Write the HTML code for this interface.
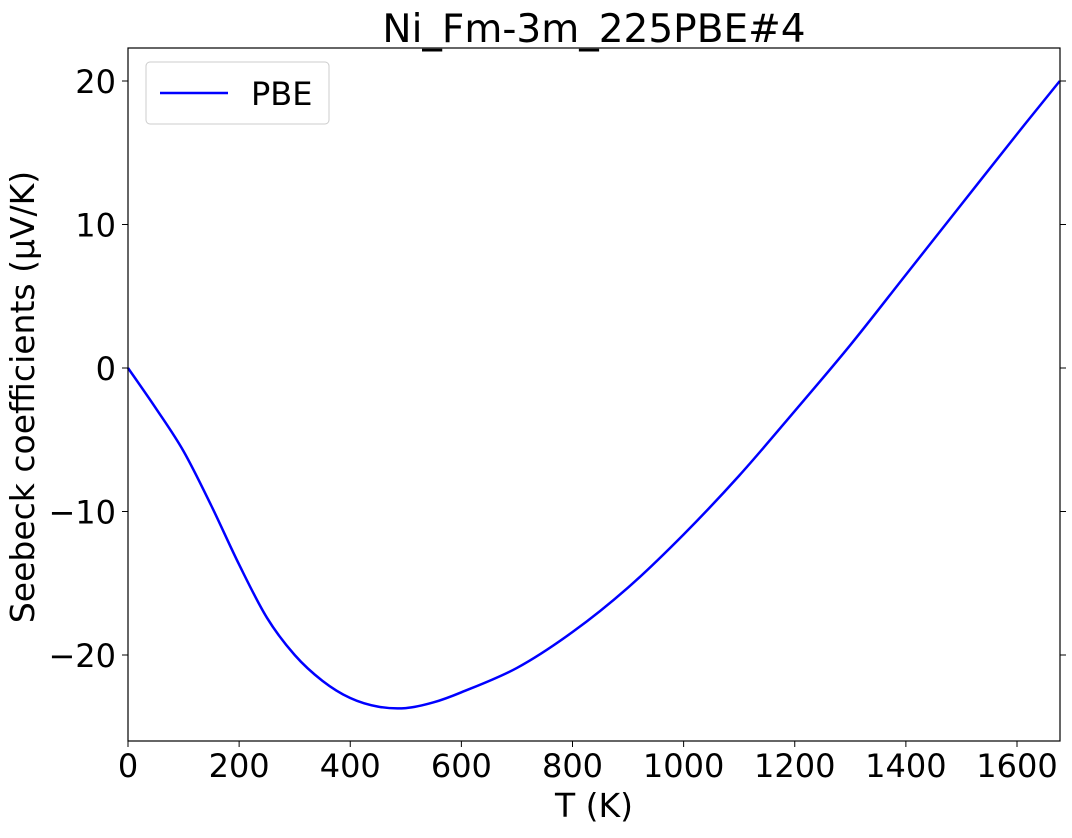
<!DOCTYPE html>
<html><head><meta charset="utf-8"><style>
body{margin:0;background:#fff;}
svg text{font-family:"DejaVu Sans","Liberation Sans",sans-serif;fill:#000;}
</style></head><body>
<svg id="chart" width="1072" height="833" xmlns="http://www.w3.org/2000/svg">
<text x="594" y="42" font-size="39" text-anchor="middle">Ni_Fm-3m_225PBE#4</text>
<g id="ticks"></g>
<path id="line" fill="none" stroke="#0000ff" stroke-width="2.5"/>
<rect x="128" y="48" width="932" height="693" fill="none" stroke="#000" stroke-width="1.2"/>
<text x="594" y="817" font-size="33" text-anchor="middle">T (K)</text>
<text transform="translate(34,397) rotate(-90)" font-size="33" text-anchor="middle">Seebeck coefficients (μV/K)</text>
<g>
<rect x="146" y="62" width="183" height="62" rx="4" fill="#fff" stroke="#ccc"/>
<line x1="160" y1="93" x2="228" y2="93" stroke="#0000ff" stroke-width="2.5"/>
<text x="251" y="105" font-size="32">PBE</text>
</g>
</svg>
<script>
const temps=[0,50,100,150,200,250,300,350,400,450,500,550,600,700,800,900,1000,1100,1200,1300,1400,1500,1600,1677];
const seebeck=[0,-2.8,-5.8,-9.6,-13.7,-17.4,-20.0,-21.8,-23.0,-23.6,-23.7,-23.3,-22.6,-20.9,-18.4,-15.3,-11.6,-7.5,-3.0,1.6,6.5,11.4,16.3,20.0];
const xTicks=[0,200,400,600,800,1000,1200,1400,1600];
const yTicks=[-20,-10,0,10,20];
const X=v=>128+v*(1017-128)/1600;
const Y=v=>368-v*14.35;
const svg=document.getElementById('ticks');
const NS='http://www.w3.org/2000/svg';
xTicks.forEach(t=>{
 const l=document.createElementNS(NS,'line');
 l.setAttribute('x1',X(t));l.setAttribute('x2',X(t));l.setAttribute('y1',741);l.setAttribute('y2',747);l.setAttribute('stroke','#000');
 
 
 svg.appendChild(l);
 const tx=document.createElementNS(NS,'text');
 tx.setAttribute('x',X(t));tx.setAttribute('y',777);tx.setAttribute('font-size','32');tx.setAttribute('text-anchor','middle');
 tx.textContent=t;
 
 
 svg.appendChild(tx);
});
yTicks.forEach(t=>{
 [[122,128],[1060,1066]].forEach(p=>{
 const l=document.createElementNS(NS,'line');
 l.setAttribute('x1',p[0]);l.setAttribute('x2',p[1]);l.setAttribute('y1',Y(t));l.setAttribute('y2',Y(t));l.setAttribute('stroke','#000');
 
 
 svg.appendChild(l);});
 const tx=document.createElementNS(NS,'text');
 tx.setAttribute('x',116);tx.setAttribute('y',Y(t)+12);tx.setAttribute('font-size','32');tx.setAttribute('text-anchor','end');
 tx.textContent=t<0?'\u2212'+(-t):t;
 
 
 svg.appendChild(tx);
});
const pts=temps.map((t,i)=>[X(t),Y(seebeck[i])]);
let d='M'+pts[0][0]+','+pts[0][1];
for(let i=0;i<pts.length-1;i++){
 const p0=pts[Math.max(0,i-1)],p1=pts[i],p2=pts[i+1],p3=pts[Math.min(pts.length-1,i+2)];
 d+=' C'+(p1[0]+(p2[0]-p0[0])/6)+','+(p1[1]+(p2[1]-p0[1])/6)+' '+(p2[0]-(p3[0]-p1[0])/6)+','+(p2[1]-(p3[1]-p1[1])/6)+' '+p2[0]+','+p2[1];
}
document.getElementById('line').setAttribute('d',d);
</script>
</body></html>
